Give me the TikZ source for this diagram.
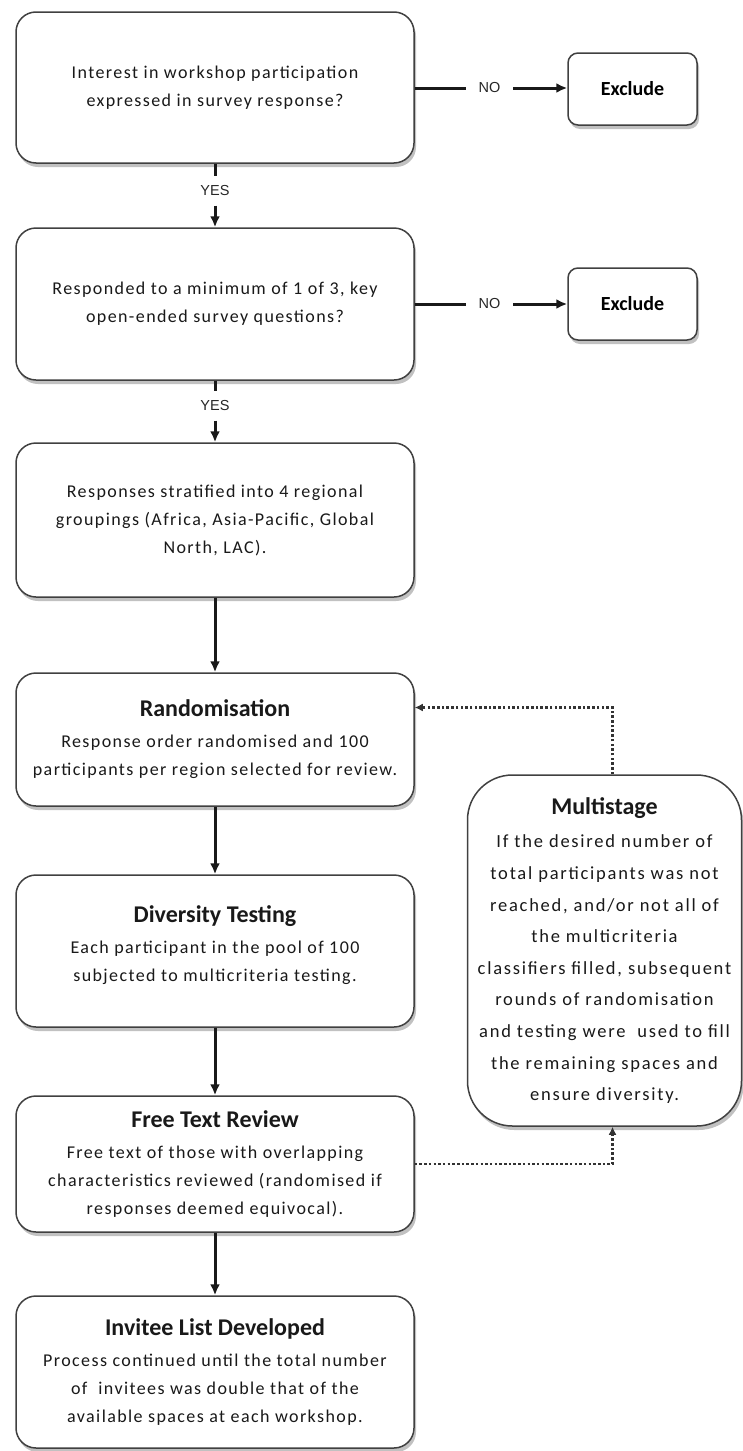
\documentclass[tikz,border=0pt]{standalone}
\usepackage{fontspec}
\setmainfont{Carlito}
\newfontfamily\bodyfont[LetterSpace=7.8]{Carlito}
\newfontfamily\msfont[LetterSpace=9.5]{Carlito}
\newfontfamily\labfont{Liberation Sans}
\usetikzlibrary{arrows.meta,shadows}
\newcommand{\bxtitle}[1]{{\rmfamily\fontsize{24}{28}\selectfont\bfseries #1}}
\begin{document}
\begin{tikzpicture}[x=1pt,y=-1pt,
  box/.style={draw=black!75, line width=1.5pt, rounded corners=20pt, fill=white,
    align=center, inner sep=4pt, minimum width=398pt,
    drop shadow={shadow xshift=2pt, shadow yshift=-4pt, opacity=0.35, fill=black!70},
    font=\bodyfont\fontsize{18}{28}\selectfont, text=black!90},
  exbox/.style={draw=black!75, line width=1.5pt, rounded corners=10pt, fill=white,
    minimum width=129pt, minimum height=72pt,
    drop shadow={shadow xshift=2pt, shadow yshift=-4pt, opacity=0.35, fill=black!70},
    font=\fontsize{20}{24}\selectfont\bfseries},
  lab/.style={font=\labfont\fontsize{14.5}{15}\selectfont, inner sep=0pt, text=black!85},
  conn/.style={line width=3pt, black!90},
  arr/.style={conn, -{Latex[length=11pt,width=10pt]}},
  dots/.style={line width=2.5pt, black!80, dash pattern=on 2.5pt off 2.2pt},
  darr/.style={dots, -{Latex[length=8pt,width=8pt]}}
]
\useasboundingbox (0,0) rectangle (742,1451);

\node[box, minimum height=151pt] (b1) at (215,87.5)
  {Interest in workshop participation\\expressed in survey response?};
\node[exbox] (e1) at (632.5,89) {Exclude};
\node[lab, minimum width=47pt] (n1) at (489.5,88) {NO};

\node[box, minimum height=152pt] (b2) at (215,304)
  {Responded to a minimum of 1 of 3, key\\open-ended survey questions?};
\node[exbox] (e2) at (632.5,304) {Exclude};
\node[lab, minimum width=47pt] (n2) at (489.5,304) {NO};

\node[lab, minimum height=29pt] (y1) at (215,191) {YES};
\node[lab, minimum height=29pt] (y2) at (215,406) {YES};

\node[box, minimum height=154pt] (b3) at (215,520)
  {Responses stratified into 4 regional\\groupings (Africa, Asia-Pacific, Global\\North, LAC).};

\node[box, minimum height=133pt] (b4) at (215,739.5)
  {\bxtitle{Randomisation}\\[3pt]
   Response order randomised and 100\\participants per region selected for review.};

\node[box, minimum height=152pt] (b5) at (215,951)
  {\bxtitle{Diversity Testing}\\[3pt]
   Each participant in the pool of 100\\subjected to multicriteria testing.\\[-13pt]};

\node[box, minimum height=136pt] (b6) at (215,1164)
  {\bxtitle{Free Text Review}\\[3pt]
   Free text of those with overlapping\\characteristics reviewed (randomised if\\responses deemed equivocal).};

\node[box, minimum height=152pt] (b7) at (215,1372)
  {\bxtitle{Invitee List Developed}\\[3pt]
   Process continued until the total number\\of\ \ invitees was double that of the\\available spaces at each workshop.};

\node[box, rounded corners=45pt, minimum width=274pt, minimum height=351pt,
      font=\msfont\fontsize{18.5}{31.6}\selectfont] (ms) at (604.5,950.5)
  {\bxtitle{Multistage}\\[2pt]
   If the desired number of\\total participants was not\\reached, and/or not all of\\the multicriteria\\classifiers filled, subsequent\\rounds of randomisation\\and testing were\ \ used to fill\\the remaining spaces and\\ensure diversity.};

% connectors
\draw[conn] (b1.east |- n1.west) -- (n1.west);
\draw[arr] (n1.east) -- (e1.west |- n1.east);
\draw[conn] (b2.east |- n2.west) -- (n2.west);
\draw[arr] (n2.east) -- (e2.west |- n2.east);
\draw[conn] (b1.south) -- (y1.north);
\draw[arr] (y1.south) -- (b2.north);
\draw[conn] (b2.south) -- (y2.north);
\draw[arr] (y2.south) -- (b3.north);
\draw[arr] (b3.south) -- (b4.north);
\draw[arr] (b4.south) -- (b5.north);
\draw[arr] (b5.south) -- (b6.north);
\draw[arr] (b6.south) -- (b7.north);

\coordinate (mstop) at ([xshift=8pt]ms.north);
\coordinate (msbot) at ([xshift=8pt]ms.south);
\coordinate (rin) at ([yshift=32pt]b4.east);
\draw[darr] (b6.east) -| (msbot);
\draw[darr] (mstop) |- (rin);
\end{tikzpicture}
\end{document}
